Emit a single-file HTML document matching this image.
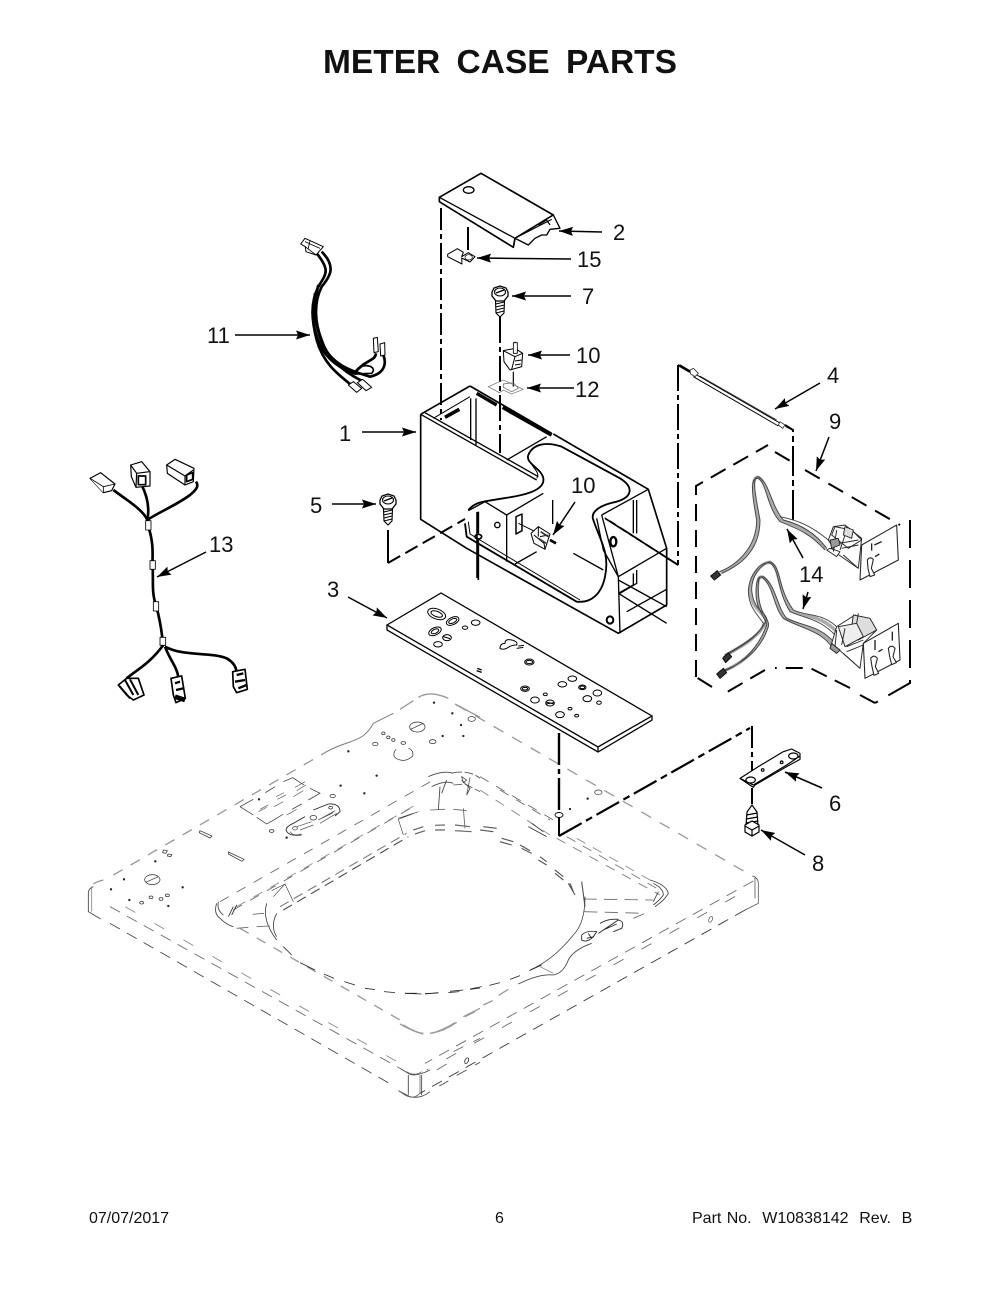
<!DOCTYPE html>
<html><head><meta charset="utf-8"><style>
html,body{margin:0;padding:0;background:#fff}
svg{display:block}
text{font-family:"Liberation Sans",Arial,sans-serif;fill:#111}
.l{font-size:22px}
.f{font-size:16px}
</style></head><body>
<svg xmlns="http://www.w3.org/2000/svg" width="1000" height="1294" viewBox="0 0 1000 1294">
<defs>
<marker id="a" markerUnits="userSpaceOnUse" markerWidth="16" markerHeight="10" refX="14" refY="4.5" orient="auto"><path d="M0 0L14 4.5L0 9L2 4.5Z" fill="#000"/></marker>
<g id="screw">
<path d="M-4.5 6L-4 18L0 22L4 18L4.5 6Z" fill="#fff" stroke="#000" stroke-width="1.1"/>
<path d="M-4.5 9L4.5 7M-4.5 12L4.5 10M-4 15L4 13M-4 18L4 16" stroke="#000" stroke-width="1" fill="none"/>
<path d="M-8 -3L-6 -7L0 -9L6 -7L8 -3L8 1L4 6L-4 6L-8 1Z" fill="#fff" stroke="#000" stroke-width="1.3"/>
<ellipse cx="0" cy="-3" rx="5.5" ry="4" fill="#fff" stroke="#000" stroke-width="1.1"/>
<path d="M-4 -2L4 -5" stroke="#000" stroke-width="1.3"/>
</g>
</defs>
<rect width="1000" height="1294" fill="#fff"/>
<text x="323" y="73" font-size="33.5" font-weight="700" word-spacing="7" style="font-weight:700">METER CASE PARTS</text>

<!-- BASE from zoom5 frame -->
<g transform="translate(80,680) scale(.33333)" fill="none" stroke-linecap="butt">
<g stroke="#999" stroke-width="4">
<path d="M40 612Q50 605 70 600" />
<path d="M100 585L740 215" stroke-dasharray="32 28"/>
<path d="M740 215C800 180 850 190 880 130L940 100" stroke="#777" stroke-width="3"/>
<path d="M960 88L1000 62M1015 52Q1050 30 1105 55M1125 72L1200 112"/>
<path d="M480 745L960 1020" stroke-dasharray="30 28"/>
<path d="M970 1035Q1010 1060 1030 1060M1055 1060Q1090 1050 1125 1028M1150 1010L1200 985"/>
</g>
<g stroke="#444" stroke-width="2.6">
<path d="M40 620Q25 625 25 640L25 695L62 717"/>
<path d="M35 620L35 695" stroke="#888"/>
<path d="M90 730L935 1214" stroke-dasharray="34 24"/>
<path d="M90 680L960 1165" stroke-dasharray="34 24" stroke="#666"/>
<path d="M100 660L960 1150" stroke-dasharray="0 42 34 24" stroke="#888"/>
<path d="M955 1232L990 1250Q1020 1258 1050 1235"/>
<path d="M985 1185L985 1240M1025 1185L1025 1245M960 1165L990 1183Q1010 1190 1050 1170"/>
<path d="M1078 1218L1105 1203M1130 1186L1160 1170M1185 1155L1200 1147"/>
<path d="M1070 1170L1100 1152M1120 1115L1150 1100M1180 1085L1200 1075" stroke="#666"/>
</g>
<!-- recess -->
<g stroke="#444" stroke-width="2.6">
<path d="M420 665L1060 300" stroke-dasharray="30 28" stroke="#666"/>
<path d="M460 690L1000 380" stroke-dasharray="30 28" stroke="#666"/>
<path d="M470 680L1015 370" stroke-dasharray="30 28" stroke="#888"/>
<path d="M610 690L985 470" stroke="#444" stroke-width="3.2" stroke-dasharray="30 18"/>
<path d="M600 680L980 460" stroke="#777" stroke-width="3.2" stroke-dasharray="30 18"/>
<path d="M410 670Q400 700 420 715Q440 735 460 740M415 665Q410 690 430 705" stroke="#444"/>
<path d="M445 710L460 680M455 705L470 675" stroke="#333"/>
<path d="M580 650L615 612L640 665M575 632L615 612" stroke="#444" stroke-width="2"/>
<path d="M560 670Q545 720 590 780M590 700Q570 740 590 770" stroke="#333" stroke-width="2.4"/>
<path d="M518 703L552 700M530 740L570 738M470 745L505 742" stroke="#666"/>
<path d="M955 418L970 465M955 418L1015 395M955 415L1000 400" stroke="#444" stroke-width="2"/>
<path d="M1045 290Q1090 270 1120 280M1055 320Q1095 300 1120 310M1080 320L1075 390M1100 300L1085 340" stroke="#444"/>
<path d="M1000 450L1030 440M1005 462L1035 452M1065 436L1095 435M1065 450L1095 450M1125 435L1170 440M1125 452L1175 455" stroke="#666" stroke-width="3.6"/>
<path d="M1050 390L1095 388M1120 388L1160 392M1170 292L1160 345M1150 385L1155 445" stroke="#666"/>
<path d="M1120 278Q1170 270 1200 295M1120 315L1155 312L1200 335" stroke="#555" stroke-dasharray="26 8"/>
<path d="M1145 300L1170 325L1160 345" stroke="#444"/>
</g>
<path d="M610 800L635 825M660 848L705 870M732 882L762 895M793 905L825 915M855 925L885 929M912 935L945 938M975 940L1010 940M1035 941L1075 939M1105 938L1138 935M1170 928L1200 924" stroke="#222" stroke-width="2.4"/>
<g stroke="#333" stroke-width="2.2">
<ellipse cx="217" cy="599" rx="23" ry="15"/><path d="M197 607L235 590"/>
<ellipse cx="1012" cy="141" rx="23" ry="15"/><path d="M992 148L1030 130"/>
<path d="M948 208Q935 225 948 235Q975 250 998 228Q1002 210 985 205"/>
<ellipse cx="185" cy="668" rx="6" ry="4"/><ellipse cx="213" cy="652" rx="6" ry="4"/><ellipse cx="243" cy="657" rx="6" ry="4"/><ellipse cx="262" cy="646" rx="6" ry="4"/>
<ellipse cx="886" cy="192" rx="8" ry="5"/><ellipse cx="910" cy="160" rx="5" ry="4"/><ellipse cx="925" cy="172" rx="5" ry="4"/><ellipse cx="940" cy="180" rx="5" ry="4"/><ellipse cx="970" cy="189" rx="7" ry="4"/>
<ellipse cx="1058" cy="185" rx="10" ry="6"/><ellipse cx="1175" cy="117" rx="11" ry="7"/>
<ellipse cx="758" cy="348" rx="8" ry="5"/><ellipse cx="575" cy="453" rx="7" ry="4"/><ellipse cx="700" cy="413" rx="10" ry="7"/><ellipse cx="645" cy="445" rx="7" ry="5"/><ellipse cx="752" cy="383" rx="6" ry="4"/>
<path d="M360 452L396 468L390 474L358 458ZM445 516L492 538L486 544L445 522Z"/>
<path d="M250 510L262 512L258 520L248 518ZM264 522L276 524L272 530L262 528Z"/>
<path d="M480 380L520 358M556 338L585 320M610 305L638 293L672 315M690 325L720 340L685 360M665 372L636 388M610 402L585 418L560 432L530 412M520 405L480 380"/>
<path d="M540 388L565 375M535 395L560 382M592 358L618 345M588 350L612 338M582 380L610 365M640 350L670 332M645 322L675 305M650 332L678 315M620 405L650 388" stroke="#666"/>
<path d="M665 465Q625 470 618 450Q618 440 640 430L675 410M700 390L745 372Q780 370 780 395L765 408" stroke="#222" stroke-width="2.6"/>
<path d="M630 455Q640 470 665 462M720 430L770 400M715 420L765 392M725 415L760 398M660 450L700 435M650 440L695 425" stroke="#555"/>
<path d="M1145 290L1160 300L1150 308Z" stroke="#333"/>
<ellipse cx="1160" cy="1142" rx="5" ry="9" transform="rotate(25 1160 1142)"/>
</g>
<g fill="#222">
<circle cx="93" cy="628" r="3.5"/><circle cx="132" cy="598" r="3.5"/><circle cx="226" cy="544" r="3.5"/><circle cx="308" cy="622" r="3.5"/><circle cx="148" cy="660" r="3.5"/><circle cx="265" cy="678" r="3.5"/><circle cx="620" cy="473" r="3.5"/><circle cx="537" cy="358" r="3.5"/><circle cx="782" cy="317" r="3.5"/><circle cx="853" cy="340" r="3.5"/><circle cx="890" cy="287" r="3.5"/><circle cx="805" cy="214" r="3.5"/><circle cx="1062" cy="68" r="3.5"/><circle cx="1117" cy="100" r="3.5"/><circle cx="1143" cy="135" r="3.5"/><circle cx="1088" cy="168" r="3.5"/><circle cx="1150" cy="168" r="3.5"/>
</g>
</g>

<!-- BASE from zoom6 frame (right) -->
<g transform="translate(400,590) scale(.33333)" fill="none">
<path d="M170 345L1060 860" stroke="#999" stroke-width="4" stroke-dasharray="34 30"/>
<path d="M1035 960L1075 940L1075 880Q1075 865 1060 858M1065 860L1065 925" stroke="#555" stroke-width="2.4"/>
<path d="M1035 960L60 1510" stroke="#333" stroke-width="2.6" stroke-dasharray="34 24"/>
<path d="M1060 873L75 1420" stroke="#666" stroke-width="2.6" stroke-dasharray="34 24"/>
<path d="M1040 900L80 1440" stroke="#666" stroke-width="2.6" stroke-dasharray="0 40 34 22"/>
<path d="M60 1510Q40 1530 15 1515L0 1505M25 1465L25 1515M60 1455L60 1510M20 1445Q45 1460 65 1445" stroke="#666" stroke-width="2.4"/>
<ellipse cx="932" cy="988" rx="5" ry="9" transform="rotate(25 932 988)" stroke="#333" stroke-width="2"/>
<ellipse cx="200" cy="1412" rx="5" ry="9" transform="rotate(25 200 1412)" stroke="#333" stroke-width="2"/>
<circle cx="510" cy="657" r="3.5" fill="#222"/><circle cx="563" cy="626" r="3.5" fill="#222"/>
<ellipse cx="595" cy="607" rx="11" ry="7" stroke="#333" stroke-width="2"/>
<g stroke="#666" stroke-width="2.6">
<path d="M240 560L460 690" stroke-dasharray="30 26"/>
<path d="M240 600L450 735" stroke-dasharray="30 26" stroke-width="2.2"/>
<path d="M300 600L450 690" stroke-dasharray="30 26"/>
<path d="M470 745L780 915" stroke-dasharray="30 26" stroke="#777"/>
<path d="M500 740L770 895" stroke-dasharray="30 26" stroke="#777"/>
<path d="M530 745L750 870" stroke-dasharray="30 26" stroke="#888"/>
<path d="M750 870Q800 885 805 910Q795 930 765 950M760 880Q790 895 790 915Q780 930 760 945M775 905L760 935" stroke="#444"/>
<path d="M550 927L760 930" stroke-dasharray="40 22"/>
<path d="M552 965L735 970L700 985" stroke-dasharray="40 22"/>
<path d="M240 720L280 725M250 710L290 715M305 745L340 755M300 755L335 765M360 765L390 782M365 775L395 790M420 800L440 815M415 810L440 825M465 840L490 860M465 850L490 870M505 880L525 915M510 880L520 905M545 875L555 950" stroke="#555" stroke-width="3.4"/>
<path d="M385 710L440 740M395 700L430 725" stroke="#333"/>
</g>
<path d="M555 920Q555 1000 520 1035Q460 1110 390 1140" stroke="#444" stroke-width="2.4"/>
<path d="M15 1210L65 1212M75 1212L115 1208M150 1204L190 1200M210 1197L245 1190M268 1186L300 1178M330 1168L360 1157M388 1142L425 1125" stroke="#222" stroke-width="2.4"/>
<path d="M355 1182Q420 1150 460 1155Q490 1150 505 1110Q520 1080 575 1060" stroke="#444" stroke-width="2.6"/>
<path d="M420 1130L460 1150" stroke="#777" stroke-width="2"/>
<path d="M250 1245L278 1232M195 1280L225 1265M90 1330Q130 1325 170 1297M0 1302Q40 1325 70 1332" stroke="#999" stroke-width="4"/>
<path d="M296 1216L325 1198" stroke="#999" stroke-width="4"/>
<path d="M595 1030L655 990Q675 995 665 1015L640 1025M545 1035Q560 1020 590 1025L580 1040Q560 1060 545 1050ZM565 1030L575 1045M560 1045L582 1040M600 1000Q625 985 655 988M610 1020L650 1002" stroke="#222" stroke-width="2.6"/>
</g>

<!-- dash-dot leader lines -->
<g fill="none" stroke="#000" stroke-width="2">
<path d="M441 208L441 420" stroke-dasharray="22 4 5 4"/>
<path d="M500 317L500 453" stroke-dasharray="26 4 5 4"/>
<path d="M468 227L468 250"/>
<path d="M477 512L477 578" stroke-width="1.6"/>
<path d="M678 365L690 372"/>
<path d="M678 365L678 565" stroke-dasharray="26 4 5 4"/>
<path d="M678 565L605 518" stroke-dasharray="26 5 7 5" stroke-width="1.8"/>
<path d="M793 520L793 430L785 425" stroke-dasharray="30 4 6 4"/>
<path d="M388 530L388 563"/>
<path d="M388 563L465 519" stroke-dasharray="14 6"/>
<path d="M559 733L559 813" stroke-width="2.4" stroke-dasharray="32 4 5 4"/>
<path d="M559 836L559 812"/>
<path d="M559 836L750 728" stroke-dasharray="26 5 7 5" stroke-width="2.2"/>
<path d="M752 726L752 780" stroke-dasharray="22 4 5 4" stroke-width="2"/>
<path d="M752 788L752 804"/>
</g>
<ellipse cx="559" cy="815" rx="4" ry="2.5" fill="#fff" stroke="#000" stroke-width=".9"/>

<!-- METER BOX -->
<g transform="translate(370,380) scale(.33333)" fill="none" stroke="#000" stroke-width="5" stroke-linejoin="round">
<path d="M152 103L152 418L290 505M290 505L745 760L890 675L890 505L835 328L550 162M300 18L152 103M300 18L545 160" />
<path d="M152 103L500 300M165 98L505 290" stroke-width="4"/>
<path d="M190 115L300 50" stroke-width="3"/>
<path d="M225 112L268 88" stroke-width="11"/>
<path d="M320 40L380 75" stroke-width="10"/>
<path d="M398 82L545 165" stroke-width="11"/>
<path d="M302 55L302 180M318 55L318 195M410 240L530 170" stroke-width="4"/>
<path d="M345 365L410 405L410 545M410 405L520 340M345 365L295 392M435 552L500 515M610 520L700 570" stroke-width="4"/>
<path d="M548 360L548 432" stroke-width="4"/>
<path d="M438 410L456 402L456 452L438 462Z" stroke-width="4.5"/>
<path d="M445 430L490 452" stroke-width="3"/>
<path d="M295 390C320 362 345 365 400 355C470 345 525 330 520 295C515 265 465 250 475 225C490 190 530 185 575 200L750 295C790 320 790 350 740 365C690 375 660 395 670 420C690 480 720 520 705 590C695 640 665 670 620 665L290 470L285 430" stroke-width="5.5"/>
<path d="M630 660L300 462L295 425" stroke-width="3"/>
<path d="M500 295C512 280 490 265 480 245" stroke-width="3" />
<path d="M695 405L835 328M695 405L745 590M745 590L890 505M790 360L790 460M800 360L800 460M745 590L750 760M745 600L890 680M790 580L790 615L745 640M800 570L800 610L750 640M770 695L890 628M745 640L890 730" stroke-width="4"/>
<path d="M745 760L770 745M680 415L700 510L745 590" stroke-width="4"/>
<path d="M705 415L925 555" stroke-dasharray="75 10 16 10" stroke-width="5"/>
<circle cx="382" cy="435" r="8" stroke-width="4"/>
<ellipse cx="325" cy="470" rx="10" ry="7" stroke-width="5"/>
<ellipse cx="720" cy="720" rx="10" ry="11" stroke-width="6"/>
<ellipse cx="730" cy="485" rx="9" ry="14" stroke-width="7"/>
<path d="M325 395L325 460M325 480L325 600" stroke-width="5"/>
<!-- switch inside -->
<path d="M483 460L505 440L540 462L525 508L492 490Z" fill="#fff" stroke-width="3"/>
<path d="M505 442L505 470M492 465L522 490M522 490L525 508M510 470L535 465" stroke-width="3"/>
<path d="M512 455L535 470M505 475L528 490" stroke="#333" stroke-width="5"/>
<path d="M540 480L558 490" stroke-width="8"/>
</g>

<!-- COVER -->
<g transform="translate(400,160) scale(.33333)" fill="#fff" stroke="#000" stroke-width="5" stroke-linejoin="round">
<path d="M118 112L243 40L460 165L345 235L340 262L118 125Z"/>
<path d="M345 235L118 112" fill="none" stroke-width="4"/>
<path d="M345 235L460 165L480 205L450 208L440 225L425 225L405 235L385 255L355 240Z" stroke-width="4"/>
<path d="M350 232L455 178M415 195L440 180L450 195" fill="none" stroke-width="3.5"/>
<ellipse cx="206" cy="90" rx="16" ry="10" stroke-width="4"/>
<!-- 15 clip -->
<path d="M143 283L172 266L190 277L185 290L205 278L225 290L210 306L185 294L186 312L143 290Z" stroke-width="3"/>
<ellipse cx="206" cy="292" rx="11" ry="8" stroke-width="2"/>
<!-- 10 top switch -->
<path d="M310 572L345 565L368 580L365 620L330 630L312 605Z" stroke-width="3"/>
<path d="M345 545L345 580M310 572L345 590L368 580M345 590L335 628M345 603L365 600M345 615L362 612" stroke-width="3" fill="none"/>
<path d="M340 548L352 548L352 580L340 580Z" stroke-width="2.5"/>
<path d="M340 635L340 680" fill="none" stroke-width="3.5"/>
<!-- 12 -->
<path d="M265 680L310 660L370 688L335 702L310 690L298 698Z" stroke="#666" stroke-width="2" fill="none"/>
<path d="M310 672L340 668L355 685L335 695L310 682Z" stroke="#666" stroke-width="2" fill="none"/>
</g>

<!-- screws -->
<use href="#screw" transform="translate(388,503)"/>
<use href="#screw" transform="translate(500,295)"/>
<g fill="#fff" stroke="#000" stroke-width="1.2">
<path d="M746 825L747 812L752 805L757 812L758 825Z"/>
<path d="M746.5 815L757.5 813M746 819L758 817M746 823L758 821" fill="none"/>
<path d="M745 825L752 821L759 825L759 832L752 836L745 832Z"/>
<path d="M745 826L752 830L759 826M752 830L752 836" fill="none"/>
</g>

<!-- PLATE 3 -->
<g fill="none" stroke="#000" stroke-width="1.1">
<path d="M387 625L441 593L652 716L598 747ZM387 625L387 630L598 752L652 720L652 716M598 747L598 752" fill="#fff" stroke-width="1.3"/>
<g transform="translate(400,590) scale(.33333)" stroke-width="3">
<ellipse cx="110" cy="72" rx="28" ry="15" transform="rotate(20 110 72)"/><ellipse cx="110" cy="72" rx="18" ry="8" transform="rotate(20 110 72)"/>
<ellipse cx="158" cy="93" rx="20" ry="11" transform="rotate(-25 158 93)"/><ellipse cx="158" cy="93" rx="13" ry="6" transform="rotate(-25 158 93)"/>
<ellipse cx="195" cy="113" rx="8" ry="5"/><ellipse cx="227" cy="98" rx="13" ry="8"/>
<ellipse cx="105" cy="124" rx="20" ry="11" transform="rotate(-25 105 124)"/><ellipse cx="105" cy="124" rx="12" ry="6" transform="rotate(-25 105 124)"/>
<ellipse cx="141" cy="143" rx="13" ry="9"/><path d="M130 140L150 146"/>
<ellipse cx="114" cy="163" rx="13" ry="8"/>
<path d="M300 175Q300 160 315 160Q315 145 335 150Q355 155 350 165Q335 165 325 172Q310 182 300 175Z"/>
<path d="M355 168L372 166M350 175L370 172" stroke-width="3"/>
<ellipse cx="388" cy="216" rx="14" ry="9"/><ellipse cx="388" cy="216" rx="10" ry="5"/>
<path d="M232 235L245 240M230 242L245 247" stroke-width="4"/>
<ellipse cx="517" cy="266" rx="13" ry="8"/><ellipse cx="487" cy="283" rx="13" ry="8"/><ellipse cx="547" cy="292" rx="11" ry="7"/><ellipse cx="547" cy="292" rx="7" ry="4"/>
<ellipse cx="375" cy="296" rx="13" ry="8"/><ellipse cx="375" cy="296" rx="8" ry="4"/><ellipse cx="592" cy="309" rx="13" ry="9"/><ellipse cx="436" cy="313" rx="6" ry="4"/>
<ellipse cx="562" cy="326" rx="13" ry="9"/><ellipse cx="405" cy="330" rx="13" ry="9"/><ellipse cx="597" cy="338" rx="7" ry="5"/>
<ellipse cx="450" cy="339" rx="13" ry="9"/><path d="M438 336L462 342M438 342L462 338"/>
<ellipse cx="510" cy="356" rx="6" ry="4"/><ellipse cx="480" cy="374" rx="13" ry="9"/><ellipse cx="530" cy="377" rx="6" ry="4"/>
</g>
</g>

<!-- bracket 6 -->
<g transform="translate(400,590) scale(.33333)" fill="#fff" stroke="#000" stroke-width="3.5" stroke-linejoin="round">
<path d="M1020 565L1075 530L1150 485L1175 477L1200 490L1200 508L1160 530L1065 585L1060 592Z"/>
<path d="M1020 565L1060 585L1160 525L1200 498" fill="none"/>
<ellipse cx="1052" cy="570" rx="14" ry="9"/>
<ellipse cx="1180" cy="498" rx="14" ry="9"/>
<circle cx="1088" cy="540" r="4"/><circle cx="1145" cy="517" r="4"/>
</g>

<!-- HARNESS 11 & 13 -->
<g transform="translate(70,230) scale(.33333)" fill="none" stroke="#000" stroke-linejoin="round">
<g stroke-width="8">
<path d="M740 70C780 120 770 130 745 170C720 220 725 270 740 330C760 400 800 430 850 470"/>
<path d="M755 65C800 110 780 140 755 170C730 220 735 280 755 330C770 380 810 420 880 455"/>
<path d="M745 165C725 240 740 300 760 350C790 400 830 420 900 440C945 430 950 400 940 375"/>
<path d="M735 190C725 260 730 300 750 345C775 395 820 420 860 432"/>
<path d="M850 432C890 385 915 395 918 370"/>
<path d="M860 420C880 395 925 410 905 430L860 432" stroke-width="5"/>
</g>
<path d="M692 42L705 25L760 50L738 75L708 65L706 50Z" fill="#fff" stroke-width="3"/>
<path d="M706 50L738 75M705 35L750 55M720 32L715 55" stroke-width="2.5"/>
<path d="M910 325L922 322L925 365L912 368Z M930 342L944 338L945 375L932 378Z" fill="#fff" stroke-width="3"/>
<path d="M835 465L850 455L875 475L860 487Z M862 458L878 448L905 472L888 482Z" fill="#fff" stroke-width="3"/>
<g stroke-width="8">
<path d="M130 780C170 810 220 840 232 870C260 850 320 825 360 795C385 775 385 765 378 755"/>
<path d="M215 765C235 805 238 840 232 870"/>
<path d="M235 890C255 950 245 990 248 1010C250 1060 245 1090 258 1125C270 1170 275 1200 278 1235"/>
<path d="M280 1245C240 1300 200 1320 170 1345M285 1250C300 1290 320 1310 325 1340M285 1250C340 1280 420 1265 470 1285C495 1300 498 1315 500 1325"/>
</g>
<g fill="#fff" stroke-width="3.5">
<path d="M60 745L92 728L135 762L125 782L100 788Z"/><path d="M60 745L100 770L100 788M100 770L135 762" stroke-width="2.5"/>
<path d="M182 705L215 695L240 725L240 768L198 772L184 740Z"/><path d="M182 705L200 730L238 725M200 730L198 772"/>
<rect x="205" y="738" width="22" height="26" stroke-width="5"/>
<path d="M290 705L315 688L372 715L370 755L345 765L292 730Z"/><path d="M290 705L345 738L370 720M345 738L345 765"/>
<path d="M350 735L368 728L368 748L350 755Z" stroke-width="5"/>
<rect x="227" y="872" width="16" height="28" stroke-width="2.5"/>
<rect x="240" y="992" width="16" height="26" stroke-width="2.5"/>
<rect x="250" y="1115" width="16" height="28" stroke-width="2.5"/>
<rect x="270" y="1222" width="17" height="24" stroke-width="2.5"/>
<path d="M145 1365L170 1345L205 1345L222 1395L190 1410L170 1395Z" stroke-width="5"/>
<path d="M165 1350L190 1395M180 1348L205 1395M148 1368L180 1405" stroke-width="6"/>
<path d="M303 1345L335 1338L346 1405L318 1418L310 1395Z" stroke-width="5"/>
<path d="M315 1360L330 1355M318 1380L340 1375" stroke-width="7"/>
<path d="M315 1400L345 1410" stroke-width="14"/>
<path d="M488 1325L525 1318L532 1378L500 1388L490 1370Z" stroke-width="5"/>
<path d="M500 1335L520 1330M495 1355L525 1350M505 1375L530 1365" stroke-width="7"/>
</g>
</g>

<!-- HARNESS 9/14 -->
<g transform="translate(680,360) scale(.33333)" fill="none" stroke-linejoin="round">
<!-- rod -->
<path d="M30 33L305 192" stroke="#000" stroke-width="3"/>
<path d="M40 50L295 198" stroke="#000" stroke-width="3"/>
<path d="M60 48L290 180M30 30L40 25L55 40L45 50L32 42Z M300 185L315 195L308 205L295 195Z" stroke="#333" stroke-width="2.5" fill="#fff"/>
<path d="M0 15L30 33M318 200L340 210" stroke="#000" stroke-width="4"/>
<g stroke="#aaa" stroke-width="10">
<path d="M122 638C165 620 236 575 235 480C220 400 212 350 235 352C265 370 265 435 305 482C350 497 395 515 438 568"/>
<path d="M135 887C180 862 248 825 258 780C250 755 212 745 210 690C212 640 248 605 271 607C302 625 290 685 335 752C378 772 425 765 475 820"/>
<path d="M118 937C168 922 235 880 262 798C265 775 232 760 232 695C232 650 240 648 250 652C285 680 285 740 315 775C365 802 420 802 460 855"/>
</g>
<g stroke="#444" stroke-width="2.8">
<path d="M125 640C170 620 240 580 240 480C225 400 215 350 235 350C270 370 270 430 310 480C350 490 400 510 440 565"/>
<path d="M118 635C160 620 230 570 230 480C215 400 210 350 235 355C260 370 260 440 300 485C350 505 390 520 435 570"/>
<path d="M300 470C350 480 390 495 445 540"/>
<path d="M135 885C180 860 250 820 260 775C255 755 220 750 215 690C215 640 250 610 270 605C305 620 290 680 340 750C380 770 430 755 480 810"/>
<path d="M130 890C175 865 240 830 250 790C230 760 205 740 205 690C210 640 245 600 272 610C300 630 290 690 330 755C375 775 420 775 470 830"/>
<path d="M120 935C170 920 240 880 265 800C270 775 240 770 235 700C232 650 240 650 250 650C290 680 290 740 320 775C370 800 420 795 465 850"/>
<path d="M115 940C165 925 230 880 260 795C260 775 225 750 228 690C230 650 240 645 250 655C280 680 280 740 310 775C360 805 420 810 455 860"/>
</g>
<g stroke="#111" stroke-width="3">
<path d="M92 648L112 632L122 645L103 660Z" fill="#333"/>
<path d="M128 895L145 878L155 890L137 908Z" fill="#333"/>
<path d="M110 942L130 925L140 938L120 955Z" fill="#333"/>
</g>
</g>
<!-- connectors, zoom7 frame -->
<g transform="translate(730,480) scale(.33333)" fill="#fff" stroke="#222" stroke-width="2.8" stroke-linejoin="round">
<path d="M295 180L310 140L345 135L395 175L385 265L320 220Z"/>
<path d="M315 140L365 150L395 180L355 205L305 165Z" />
<path d="M320 150L310 215M350 150L330 210M300 205L330 215L320 230L290 210Z"/>
<path d="M345 140L370 150L365 175L340 165Z" fill="#ddd"/>
<path d="M300 180L325 175L330 195L305 205Z" fill="#999"/>
<path d="M330 190L385 180M335 205L385 195M340 225L385 265" fill="none"/>
<path d="M395 195L500 135L505 240L390 300Z" stroke-width="3.2"/>
<path d="M425 190L425 212M433 195L455 185M435 230L448 222" fill="none" stroke-width="4"/>
<path d="M412 240Q420 228 430 238L424 265L434 285L420 290L414 265Z" stroke-width="3.2"/>
<path d="M305 490L320 440L375 405L440 450L400 490L390 565Z"/>
<path d="M370 405L420 415L440 450L385 480L365 440Z" fill="#ddd"/>
<path d="M325 440L380 430L400 470L345 500Z" fill="#eee"/>
<path d="M305 490L330 510L320 520L300 505Z" fill="#999"/>
<path d="M320 450L315 500M345 445L335 495M350 500L400 480M350 515L400 495M340 520L390 565M385 400L380 430" fill="none"/>
<path d="M400 490L505 430L510 540L405 595Z" stroke-width="3.2"/>
<path d="M435 480L435 510M487 455L487 482M445 515L458 508" fill="none" stroke-width="4"/>
<path d="M422 535Q432 522 442 535L436 560L446 580L432 586L426 560Z" stroke-width="3.2"/>
<path d="M475 505Q485 492 495 505L489 530L499 548L485 554L479 530Z" stroke-width="3.2"/>
</g>
<!-- dashed box 9 -->
<path d="M696 677L696 486L768 445M775 452L792 462" fill="none" stroke="#000" stroke-width="2" stroke-dasharray="17 9"/>
<path d="M805 470L900 525" fill="none" stroke="#000" stroke-width="2" stroke-dasharray="17 10"/>
<path d="M910 520L910 683L875 703" fill="none" stroke="#000" stroke-width="2" stroke-dasharray="28 12"/>
<path d="M875 703L860 695M850 688L810 668L775 668M765 670L722 695M712 687L696 677" fill="none" stroke="#000" stroke-width="2" stroke-dasharray="17 9"/>

<!-- arrows -->
<g fill="none" stroke="#000" stroke-width="1.5">
<path d="M602 232L559 231" marker-end="url(#a)"/>
<path d="M571 259L477 258" marker-end="url(#a)"/>
<path d="M571 296L512 296" marker-end="url(#a)"/>
<path d="M570 355L528 355" marker-end="url(#a)"/>
<path d="M574 388L527 388" marker-end="url(#a)"/>
<path d="M820 383L775 409" marker-end="url(#a)"/>
<path d="M829 437L816 471" marker-end="url(#a)"/>
<path d="M362 432L416 432" marker-end="url(#a)"/>
<path d="M332 504L376 504" marker-end="url(#a)"/>
<path d="M575 502L553 535" marker-end="url(#a)"/>
<path d="M235 335L310 335" marker-end="url(#a)"/>
<path d="M206 552L157 577" marker-end="url(#a)"/>
<path d="M348 597L387 618" marker-end="url(#a)"/>
<path d="M803 558L787 529" marker-end="url(#a)"/>
<path d="M808 592L803 609" marker-end="url(#a)"/>
<path d="M822 788L785 772" marker-end="url(#a)"/>
<path d="M805 855L761 830" marker-end="url(#a)"/>
</g>

<!-- labels -->
<g class="l">
<text class="l" x="613" y="240">2</text>
<text class="l" x="577" y="267">15</text>
<text class="l" x="582" y="304">7</text>
<text class="l" x="576" y="363">10</text>
<text class="l" x="575" y="397">12</text>
<text class="l" x="827" y="383">4</text>
<text class="l" x="829" y="429">9</text>
<text class="l" x="339" y="441">1</text>
<text class="l" x="310" y="513">5</text>
<text class="l" x="571" y="493">10</text>
<text class="l" x="207" y="343">11</text>
<text class="l" x="209" y="552">13</text>
<text class="l" x="327" y="597">3</text>
<text class="l" x="799" y="582">14</text>
<text class="l" x="829" y="811">6</text>
<text class="l" x="812" y="871">8</text>
</g>
<text class="f" x="89" y="1223">07/07/2017</text>
<text class="f" x="495" y="1223">6</text>
<text class="f" x="692" y="1223" xml:space="preserve" word-spacing="0.9">Part No.  W10838142  Rev.  B</text>
</svg>
</body></html>
